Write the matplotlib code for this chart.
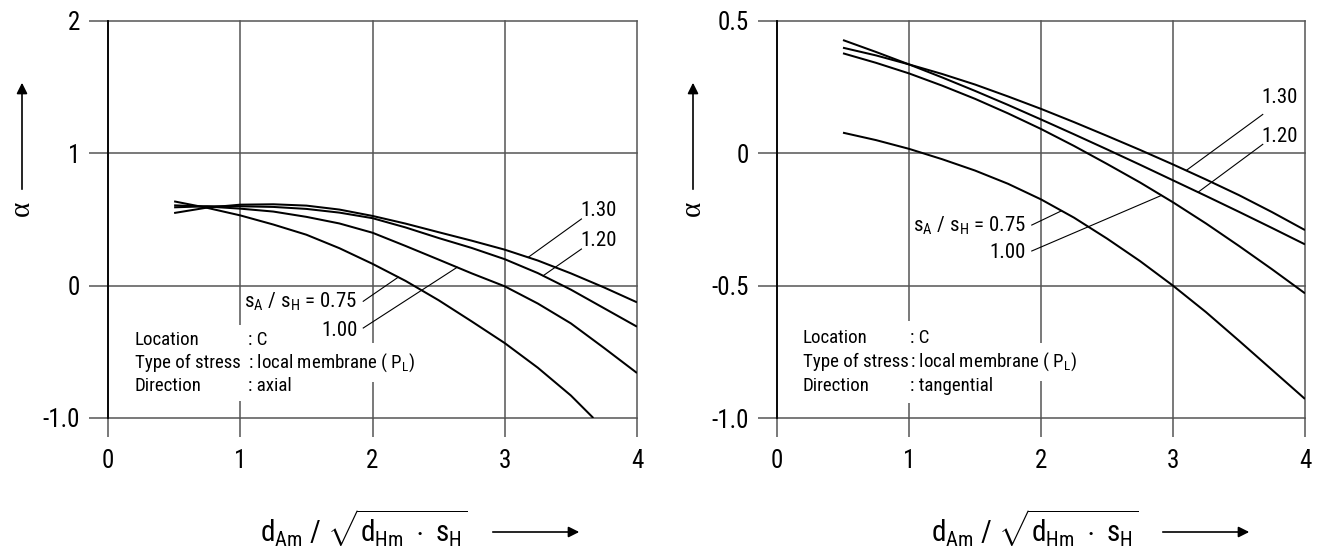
import matplotlib
matplotlib.use("Agg")
import numpy as np
import matplotlib.pyplot as plt
from matplotlib import font_manager
from matplotlib.patches import Rectangle, FancyArrowPatch
from matplotlib.transforms import Bbox

_installed = {f.name for f in font_manager.fontManager.ttflist}
_narrow = [n for n in ("Liberation Sans Narrow", "Arial Narrow", "Roboto Condensed")
           if n in _installed]
if _narrow:
    SANS, SCALE = _narrow[0], 1.0
else:
    SANS, SCALE = "Liberation Sans", 0.84
plt.rcParams["font.family"] = [SANS, "DejaVu Sans"]
plt.rcParams["mathtext.fontset"] = "custom"
for _k in ("rm", "it", "bf", "sf"):
    plt.rcParams["mathtext." + _k] = SANS
plt.rcParams["axes.unicode_minus"] = False

# ---------------- data ----------------
ratio_labels = ["0.75", "1.00", "1.20", "1.30"]

x_vals = [0.5, 0.75, 1.0, 1.25, 1.5, 1.75, 2.0, 2.25, 2.5, 2.75, 3.0, 3.25, 3.5, 3.75, 4.0]
x_axial_075 = [0.5, 0.75, 1.0, 1.25, 1.5, 1.75, 2.0, 2.25, 2.5, 2.75, 3.0, 3.25, 3.5, 3.67]

# axial direction
axial_075 = [0.637, 0.588, 0.531, 0.462, 0.385, 0.283, 0.165, 0.036, -0.110, -0.270, -0.434, -0.620, -0.830, -1.000]
axial_100 = [0.607, 0.598, 0.582, 0.560, 0.520, 0.470, 0.400, 0.300, 0.197, 0.093, -0.005, -0.135, -0.285, -0.470, -0.660]
axial_120 = [0.592, 0.600, 0.600, 0.595, 0.580, 0.552, 0.510, 0.440, 0.360, 0.285, 0.200, 0.095, -0.030, -0.170, -0.310]
axial_130 = [0.549, 0.590, 0.612, 0.615, 0.605, 0.575, 0.527, 0.469, 0.404, 0.340, 0.272, 0.190, 0.093, -0.013, -0.126]

# tangential direction
tang_075 = [0.078, 0.050, 0.017, -0.022, -0.065, -0.115, -0.174, -0.243, -0.322, -0.407, -0.500, -0.600, -0.708, -0.818, -0.928]
tang_100 = [0.378, 0.342, 0.302, 0.256, 0.206, 0.151, 0.092, 0.028, -0.040, -0.110, -0.185, -0.265, -0.350, -0.438, -0.529]
tang_120 = [0.428, 0.383, 0.336, 0.287, 0.236, 0.183, 0.128, 0.072, 0.015, -0.043, -0.102, -0.161, -0.221, -0.282, -0.344]
tang_130 = [0.399, 0.370, 0.336, 0.300, 0.260, 0.215, 0.168, 0.118, 0.066, 0.013, -0.042, -0.099, -0.158, -0.222, -0.290]

x_ticks = [0, 1, 2, 3, 4]
axial_yticks = [-1.0, 0.0, 1.0, 2.0]
axial_yticklabels = ["-1.0", "0", "1", "2"]
tang_yticks = [-1.0, -0.5, 0.0, 0.5]
tang_yticklabels = ["-1.0", "-0.5", "0", "0.5"]

info_keys = ["Location", "Type of stress", "Direction"]
axial_info = [": C", ": local membrane ( $P_L$)", ": axial"]
tang_info = [": C", ": local membrane ( $P_L$)", ": tangential"]

# ---------------- styling ----------------
W, H = 1320, 555
GRID = "#555555"
TICK_FS = 18 * SCALE
LABEL_FS = 15 * SCALE
INFO_FS = 13.6 * SCALE
TITLE_FS = 21 * SCALE
CURVE_LW = 1.45

fig = plt.figure(figsize=(W / 100, H / 100), dpi=100)
ax_a = fig.add_axes([108 / W, 1 - 418 / H, 529 / W, 397 / H])
ax_t = fig.add_axes([777 / W, 1 - 418 / H, 528 / W, 397 / H])


def style_axes(ax, ylim, yticks, yticklabels):
    ax.set_xlim(0, 4)
    ax.set_ylim(*ylim)
    ax.set_xticks(x_ticks)
    ax.set_xticklabels([str(v) for v in x_ticks])
    ax.set_yticks(yticks)
    ax.set_yticklabels(yticklabels)
    for s in ("top", "right", "bottom"):
        ax.spines[s].set_visible(False)
    ax.spines["left"].set_color("black")
    ax.spines["left"].set_linewidth(1.3)
    ax.set_axisbelow(True)
    ax.grid(True, color=GRID, linewidth=1.1)
    for gl in ax.get_xgridlines() + ax.get_ygridlines():
        gl.set_clip_on(False)
    ax.tick_params(axis="both", direction="out", length=14, width=1.1,
                   color=GRID, labelsize=TICK_FS, labelcolor="black")
    ax.tick_params(axis="x", pad=8)
    ax.tick_params(axis="y", pad=6)
    ax.patch.set_visible(False)


style_axes(ax_a, (-1.0, 2.0), axial_yticks, axial_yticklabels)
style_axes(ax_t, (-1.0, 0.5), tang_yticks, tang_yticklabels)

# curves
axial_curves = {
    "0.75": (x_axial_075, axial_075),
    "1.00": (x_vals, axial_100),
    "1.20": (x_vals, axial_120),
    "1.30": (x_vals, axial_130),
}
tang_curves = {
    "0.75": (x_vals, tang_075),
    "1.00": (x_vals, tang_100),
    "1.20": (x_vals, tang_120),
    "1.30": (x_vals, tang_130),
}
for ax, curves in ((ax_a, axial_curves), (ax_t, tang_curves)):
    for key in ratio_labels:
        xs, ys = curves[key]
        ax.plot(xs, ys, color="black", lw=CURVE_LW, solid_capstyle="butt",
                solid_joinstyle="round", zorder=2)


def leader(ax, curves, key, text, text_xy, start_xy, target_x, ha):
    xs, ys = curves[key]
    ty = float(np.interp(target_x, xs, ys))
    ax.plot([start_xy[0], target_x], [start_xy[1], ty], color="black",
            lw=0.8, zorder=2)
    ax.text(text_xy[0], text_xy[1], text, ha=ha, va="center",
            fontsize=LABEL_FS, zorder=3)


ratio_text = r"$s_A\ /\ s_H$ = 0.75"

# axial labels
leader(ax_a, axial_curves, "0.75", ratio_text, (1.885, -0.125), (1.93, -0.118), 2.195, "right")
leader(ax_a, axial_curves, "1.00", "1.00", (1.885, -0.34), (1.93, -0.32), 2.64, "right")
leader(ax_a, axial_curves, "1.30", "1.30", (3.57, 0.565), (3.58, 0.504), 3.177, "left")
leader(ax_a, axial_curves, "1.20", "1.20", (3.57, 0.34), (3.58, 0.277), 3.29, "left")

# tangential labels
leader(ax_t, tang_curves, "0.75", ratio_text, (1.888, -0.274), (1.93, -0.271), 2.156, "right")
leader(ax_t, tang_curves, "1.00", "1.00", (1.888, -0.375), (1.93, -0.369), 2.913, "right")
leader(ax_t, tang_curves, "1.30", "1.30", (3.67, 0.21), (3.68, 0.147), 3.10, "left")
leader(ax_t, tang_curves, "1.20", "1.20", (3.67, 0.065), (3.68, 0.034), 3.19, "left")


def info_block(ax, x_key, x_val, rows_y, values):
    keys, vals = [], []
    for k, v, y in zip(info_keys, values, rows_y):
        keys.append(ax.text(x_key, y, k, ha="left", va="center",
                            fontsize=INFO_FS, zorder=3))
        vals.append(ax.text(x_val, y, v, ha="left", va="center",
                            fontsize=INFO_FS, zorder=3))
    return keys, vals


a_keys, a_vals = info_block(ax_a, 0.204, 1.06, [-0.408, -0.582, -0.756], axial_info)
t_keys, t_vals = info_block(ax_t, 0.195, 1.007, [-0.698, -0.789, -0.880], tang_info)


# axis titles with arrows (figure pixel positions)
def y_title(x_px):
    fig.text(x_px / W, 1 - 208 / H, "α", family=["Liberation Serif", "DejaVu Serif"],
             fontsize=21, rotation=90, ha="center", va="center")
    fig.add_artist(FancyArrowPatch(
        (x_px / W, 1 - 192 / H), (x_px / W, 1 - 80 / H),
        transform=fig.transFigure, arrowstyle="-|>", mutation_scale=16,
        color="black", lw=1.2))


def x_title(cx_px, ax0_px, ax1_px):
    fig.text(cx_px / W, 1 - 528 / H,
             r"$d_{Am}\ /\ \sqrt{d_{Hm}\ \cdot\ s_H}$",
             fontsize=TITLE_FS, ha="center", va="center")
    fig.add_artist(FancyArrowPatch(
        (ax0_px / W, 1 - 532 / H), (ax1_px / W, 1 - 532 / H),
        transform=fig.transFigure, arrowstyle="-|>", mutation_scale=16,
        color="black", lw=1.2))


y_title(22)
y_title(693)
x_title(364, 490, 582)
x_title(1035, 1160, 1252)

# white masks behind the info text so that grid lines are interrupted
fig.canvas.draw()
renderer = fig.canvas.get_renderer()


def mask(ax, texts, padx, pady):
    bb = Bbox.union([t.get_window_extent(renderer) for t in texts])
    (x0, y0), (x1, y1) = ax.transAxes.inverted().transform(
        [[bb.x0 - padx, bb.y0 - pady], [bb.x1 + padx, bb.y1 + pady]])
    ax.add_patch(Rectangle((x0, y0), x1 - x0, y1 - y0, transform=ax.transAxes,
                           facecolor="white", edgecolor="none", zorder=1))


for ax, keys, vals in ((ax_a, a_keys, a_vals), (ax_t, t_keys, t_vals)):
    mask(ax, keys, 4, 6)
    for v in vals:
        mask(ax, [v], 4, 8)

fig.savefig("out.png", dpi=100)
